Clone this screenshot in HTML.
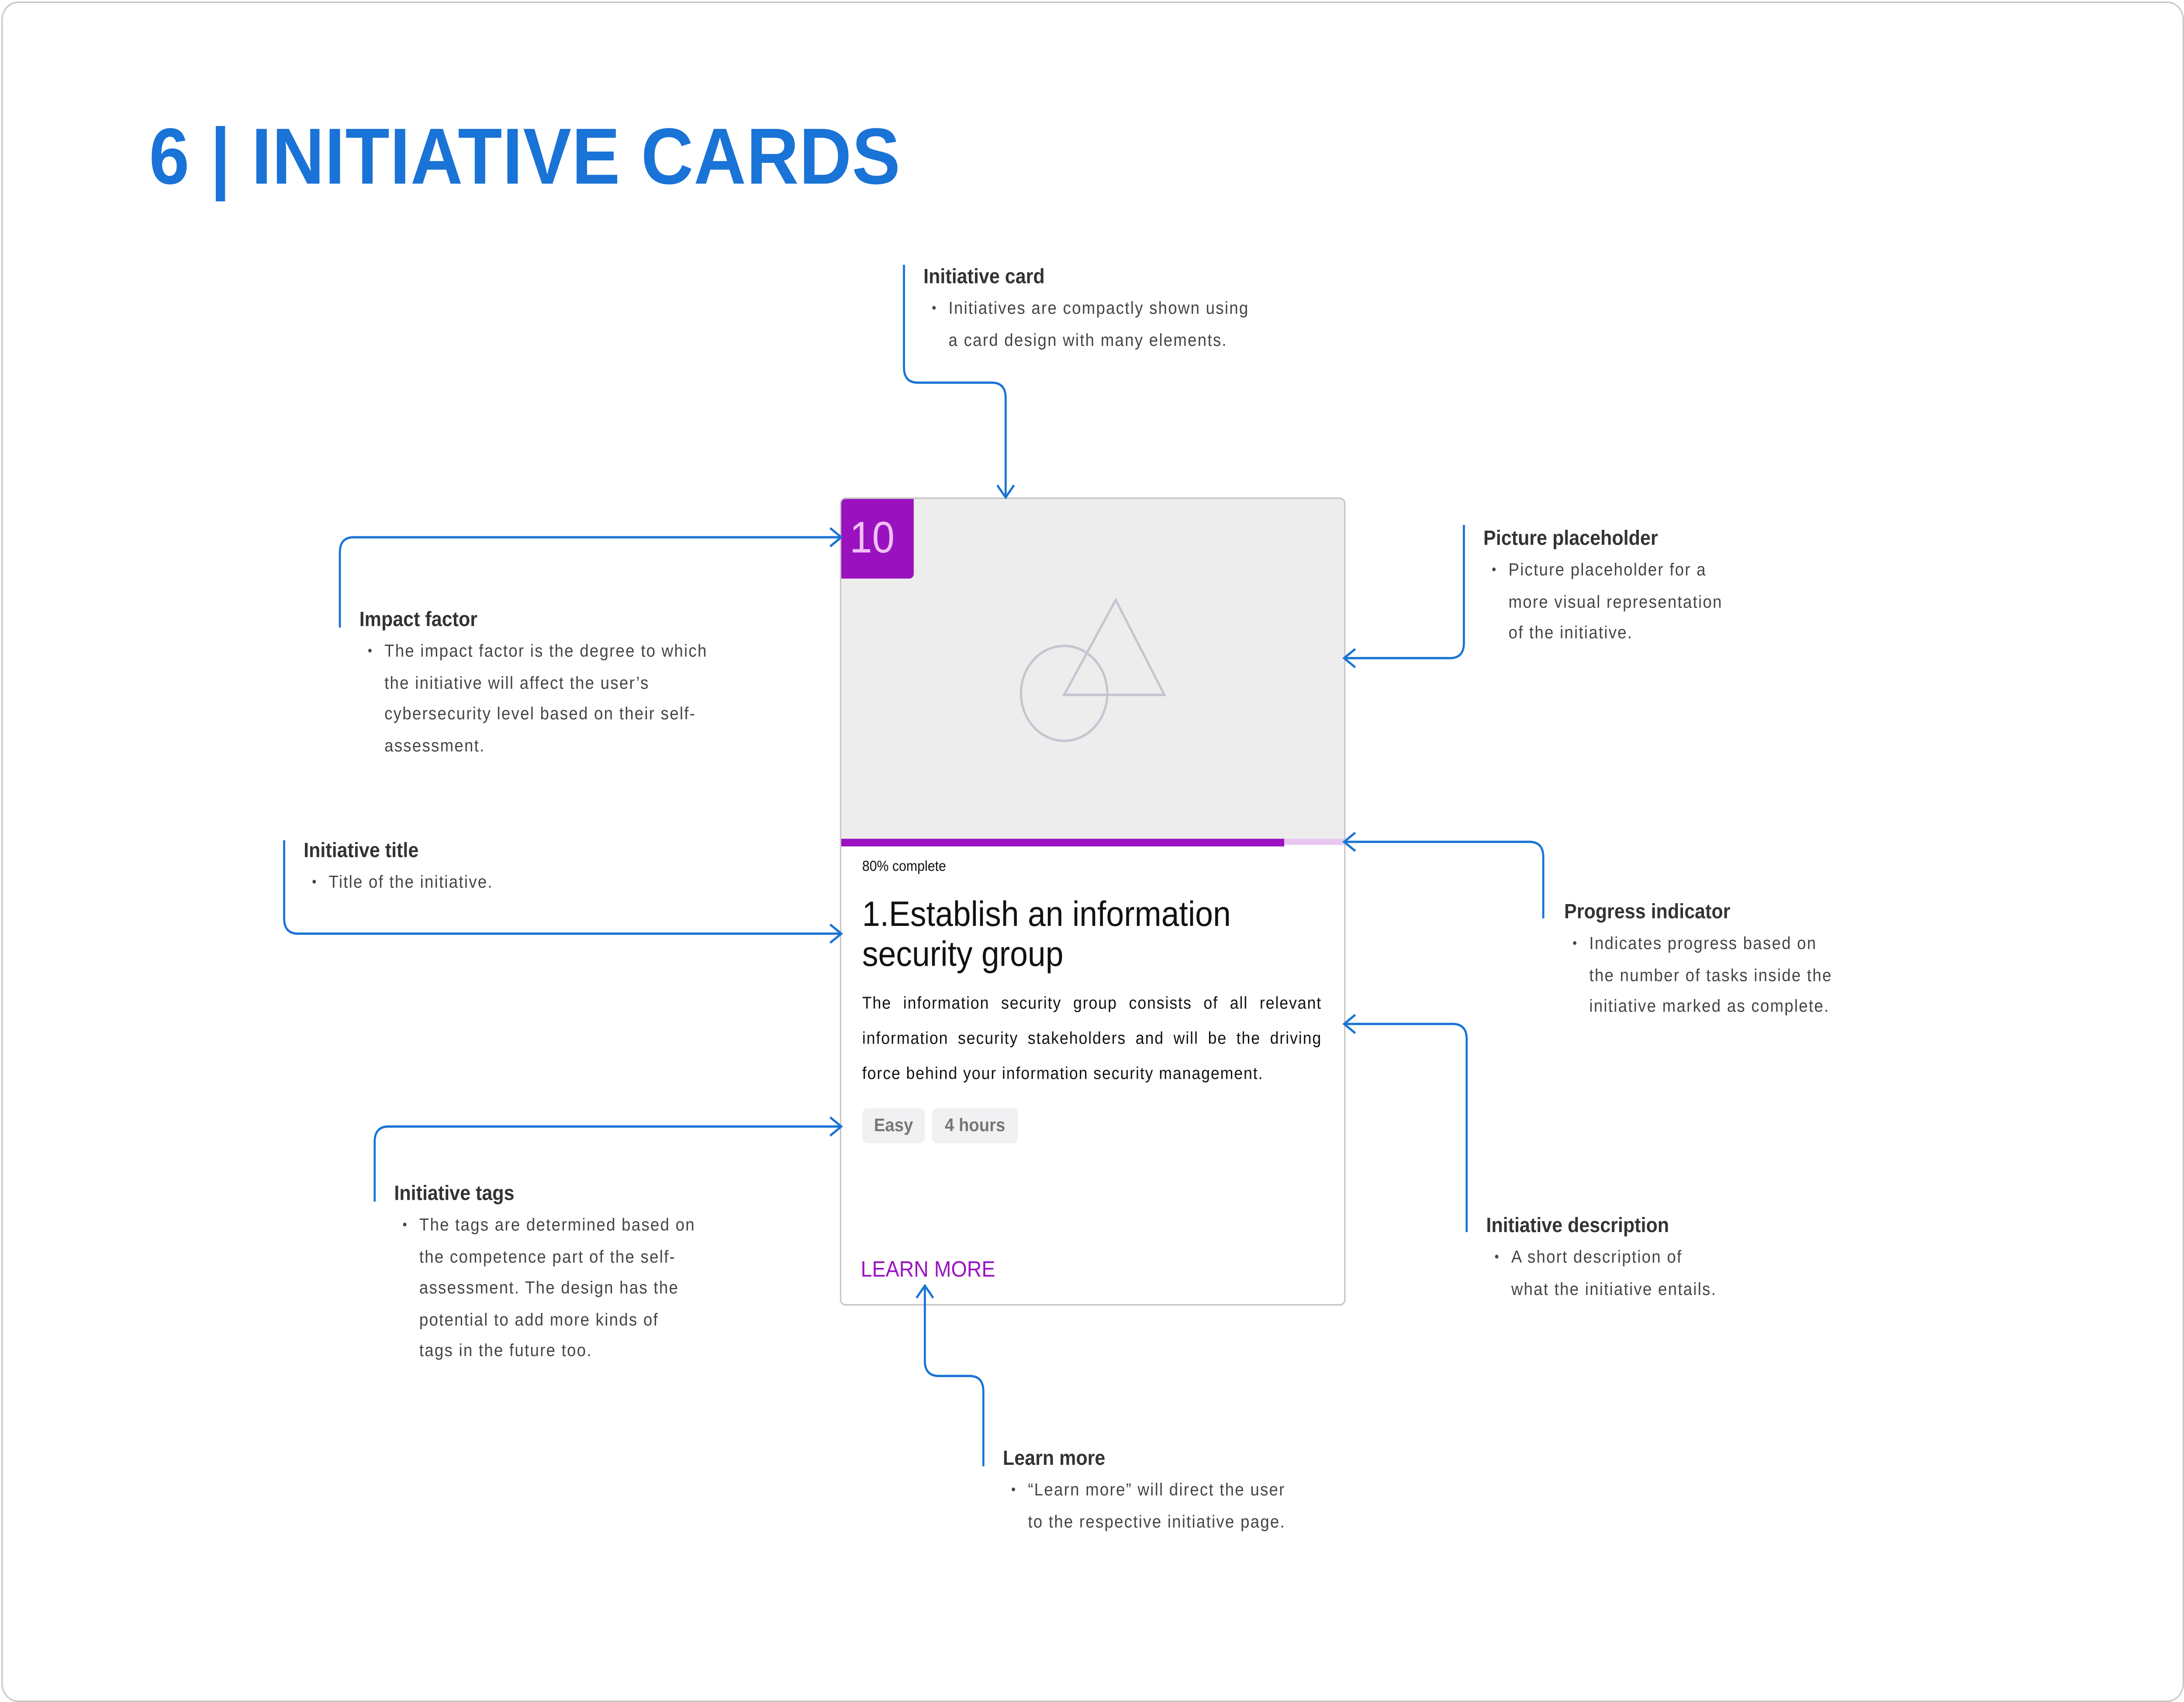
<!DOCTYPE html>
<html><head><meta charset="utf-8"><style>
html,body{margin:0;padding:0;background:#fff;width:100%;height:100%;overflow:hidden;}
svg.root{position:absolute;left:0;top:0;width:100%;height:100%;display:block;}
#s{position:relative;width:1568px;height:1112px;font-family:"Liberation Sans",sans-serif;}
.frame{position:absolute;left:0.5px;top:0.5px;width:1565px;height:1109px;border:1px solid #c8c8c8;border-radius:12px;}
.t{position:absolute;white-space:nowrap;}
.h{font-weight:bold;font-size:13.5px;color:#333;line-height:20px;}
.b{font-size:11.5px;color:#444;line-height:20.5px;letter-spacing:0.7px;}
.dot{position:absolute;font-size:9px;color:#444;}
</style></head><body>
<svg class="root" viewBox="0 0 1568 1112" preserveAspectRatio="none" xmlns="http://www.w3.org/2000/svg">
<foreignObject x="0" y="0" width="1568" height="1112">
<div xmlns="http://www.w3.org/1999/xhtml" id="s">
<div class="frame"></div>
<div class="t" style="left:107px;top:71px;font-size:52px;font-weight:bold;color:#1a73d6;line-height:64px;letter-spacing:0.3px;">6 | INITIATIVE CARDS</div>

<div style="position:absolute;left:603px;top:325px;width:361px;height:526px;border:1px solid #c6c6c6;border-radius:4px;background:#fff;overflow:hidden;">
 <div style="position:absolute;left:0;top:0;width:361px;height:222px;background:#ededed;"></div>
 <div style="position:absolute;left:0;top:222px;width:318px;height:5px;background:#9a12c0;"></div>
 <div style="position:absolute;left:318px;top:222px;width:43px;height:4px;background:#e8c8f0;"></div>
 <div style="position:absolute;left:0;top:0;width:52px;height:52px;background:#9a12c0;border-radius:0 0 3px 0;"></div>
 <div class="t" style="left:6px;top:8px;font-size:29px;color:#f0c0f8;line-height:36px;">10</div>
 <svg style="position:absolute;left:0;top:0" width="361" height="222"><circle cx="160" cy="127" r="31" fill="none" stroke="#c8c3d0" stroke-width="1.6"/><polygon points="197,66 232,128 160,128" fill="none" stroke="#c8c3d0" stroke-width="1.6"/></svg>
 <div class="t" style="left:15px;top:234px;font-size:9.5px;color:#111;line-height:14px;">80% complete</div>
 <div class="t" style="left:15px;top:258px;font-size:23px;color:#111;line-height:26px;">1.Establish an information<br/>security group</div>
 <div style="position:absolute;left:15px;top:319px;width:330px;font-size:11.2px;color:#111;line-height:23px;text-align:justify;letter-spacing:0.6px;">The information security group consists of all relevant information security stakeholders and will be the driving force behind your information security management.</div>
 <div style="position:absolute;left:15px;top:398px;width:45px;height:23px;background:#f1f1f3;border-radius:4px;font-size:12px;font-weight:bold;color:#777;line-height:23px;text-align:center;">Easy</div>
 <div style="position:absolute;left:65px;top:398px;width:62px;height:23px;background:#f1f1f3;border-radius:4px;font-size:12px;font-weight:bold;color:#777;line-height:23px;text-align:center;">4 hours</div>
 <div class="t" style="left:14px;top:494px;font-size:14.6px;color:#9a12c0;line-height:20px;">LEARN MORE</div>
</div>

<svg style="position:absolute;left:0;top:0" width="1568" height="1112" fill="none" stroke="#1a73d6" stroke-width="1.5">
 <path d="M649 173 V240 Q649 250 659 250 H712 Q722 250 722 260 V324"/><path d="M716 317 L722 325 L728 317"/>
 <path d="M244 410 V361 Q244 351 254 351 H603"/><path d="M596 345 L604 351 L596 357"/>
 <path d="M1051 343 V420 Q1051 430 1041 430 H966"/><path d="M973 424 L965 430 L973 436"/>
 <path d="M204 549 V600 Q204 610 214 610 H603"/><path d="M596 604 L604 610 L596 616"/>
 <path d="M1108 600 V560 Q1108 550 1098 550 H966"/><path d="M973 544 L965 550 L973 556"/>
 <path d="M1053 805 V679 Q1053 669 1043 669 H966"/><path d="M973 663 L965 669 L973 675"/>
 <path d="M269 785 V746 Q269 736 279 736 H603"/><path d="M596 730 L604 736 L596 742"/>
 <path d="M706 958 V909 Q706 899 696 899 H674 Q664 899 664 889 V841"/><path d="M658 848 L664 840 L670 848"/>
</svg>

<div class="t h" style="left:663px;top:171px;">Initiative card</div>
<div class="t b" style="left:681px;top:192px;">Initiatives are compactly shown using<br/>a card design with many elements.</div>
<div class="dot" style="left:669px;top:196px;">•</div>

<div class="t h" style="left:258px;top:395px;">Impact factor</div>
<div class="t b" style="left:276px;top:416px;">The impact factor is the degree to which<br/>the initiative will affect the user’s<br/>cybersecurity level based on their self-<br/>assessment.</div>
<div class="dot" style="left:264px;top:420px;">•</div>

<div class="t h" style="left:1065px;top:342px;">Picture placeholder</div>
<div class="t b" style="left:1083px;top:363px;">Picture placeholder for a<br/>more visual representation<br/>of the initiative.</div>
<div class="dot" style="left:1071px;top:367px;">•</div>

<div class="t h" style="left:218px;top:546px;">Initiative title</div>
<div class="t b" style="left:236px;top:567px;">Title of the initiative.</div>
<div class="dot" style="left:224px;top:571px;">•</div>

<div class="t h" style="left:1123px;top:586px;">Progress indicator</div>
<div class="t b" style="left:1141px;top:607px;">Indicates progress based on<br/>the number of tasks inside the<br/>initiative marked as complete.</div>
<div class="dot" style="left:1129px;top:611px;">•</div>

<div class="t h" style="left:283px;top:770px;">Initiative tags</div>
<div class="t b" style="left:301px;top:791px;">The tags are determined based on<br/>the competence part of the self-<br/>assessment. The design has the<br/>potential to add more kinds of<br/>tags in the future too.</div>
<div class="dot" style="left:289px;top:795px;">•</div>

<div class="t h" style="left:1067px;top:791px;">Initiative description</div>
<div class="t b" style="left:1085px;top:812px;">A short description of<br/>what the initiative entails.</div>
<div class="dot" style="left:1073px;top:816px;">•</div>

<div class="t h" style="left:720px;top:943px;">Learn more</div>
<div class="t b" style="left:738px;top:964px;">“Learn more” will direct the user<br/>to the respective initiative page.</div>
<div class="dot" style="left:726px;top:968px;">•</div>
</div>
</foreignObject>
</svg>
</body></html>
